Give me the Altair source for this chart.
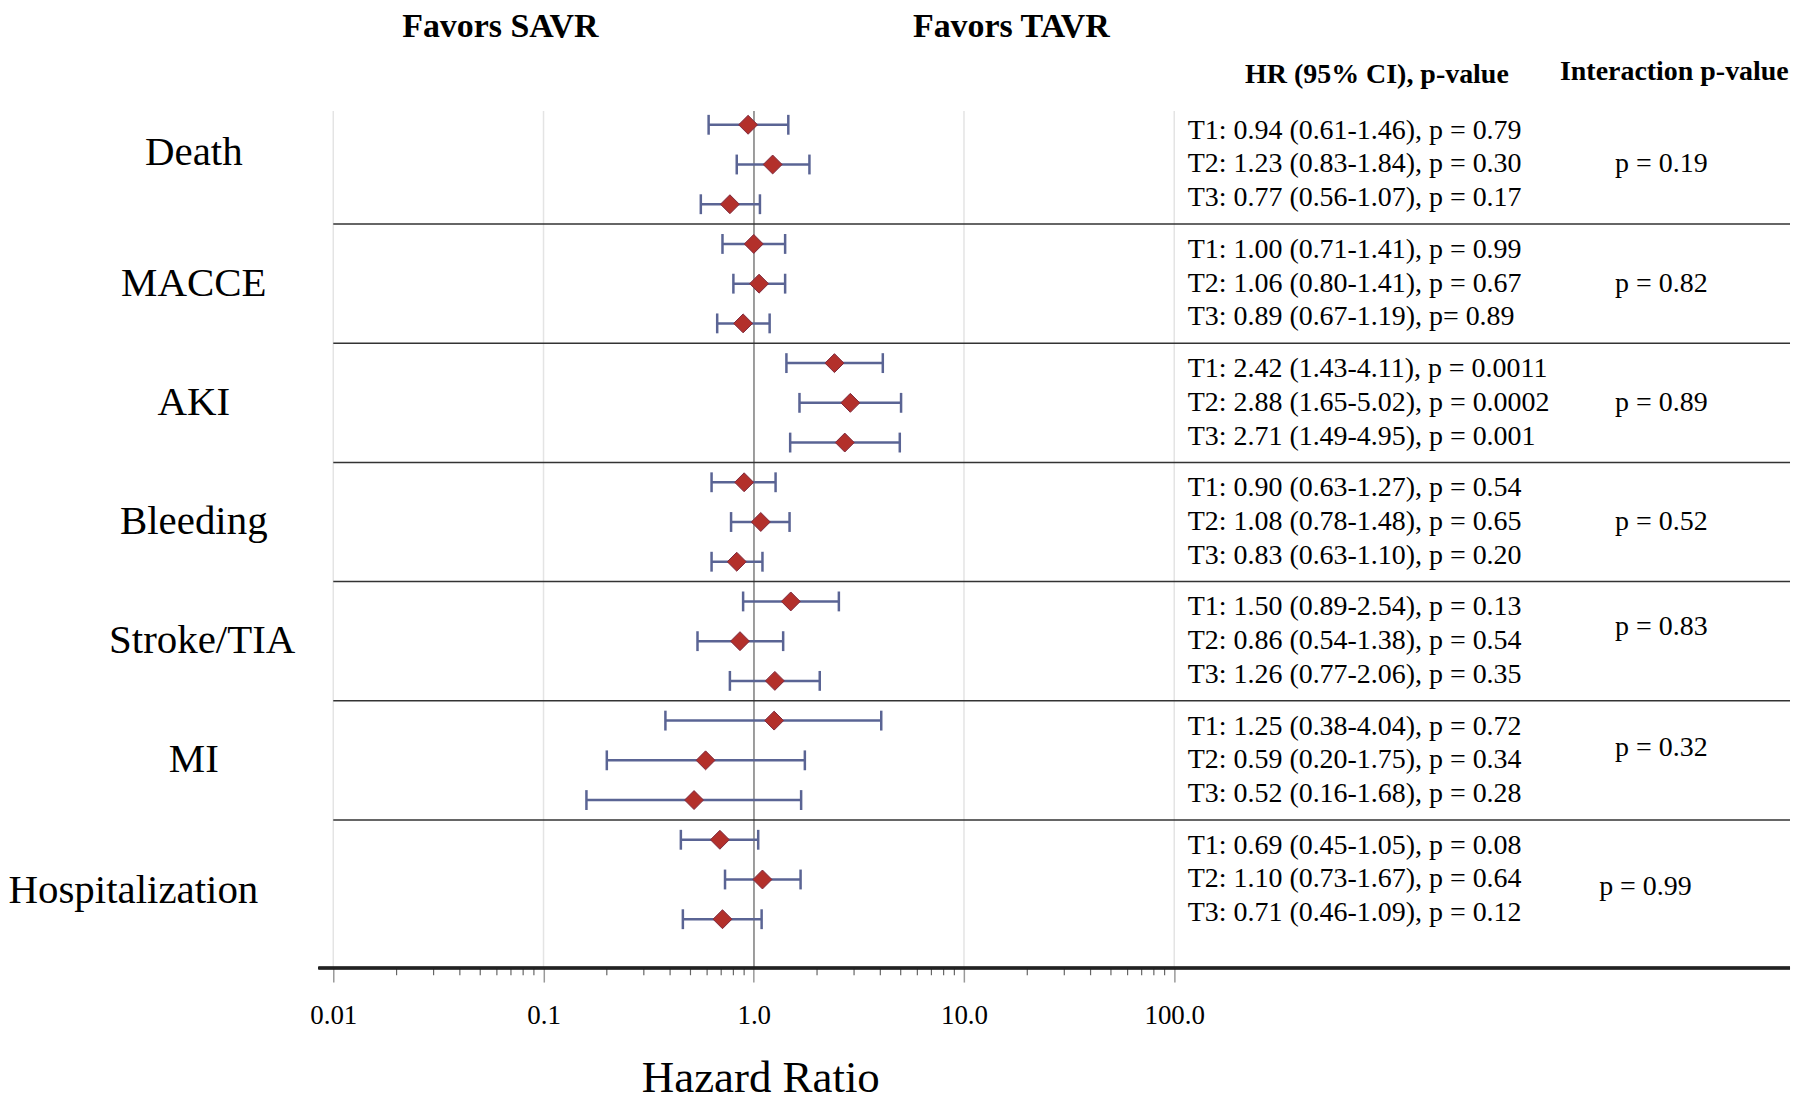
import altair as alt
import pandas as pd

# ---------------- data ----------------
outcomes = ["Death", "MACCE", "AKI", "Bleeding", "Stroke/TIA", "MI", "Hospitalization"]
tiers = ["T1", "T2", "T3"]
hr = [0.94, 1.23, 0.77, 1.00, 1.06, 0.89, 2.42, 2.88, 2.71, 0.90, 1.08, 0.83,
      1.50, 0.86, 1.26, 1.25, 0.59, 0.52, 0.69, 1.10, 0.71]
ci_lo = [0.61, 0.83, 0.56, 0.71, 0.80, 0.67, 1.43, 1.65, 1.49, 0.63, 0.78, 0.63,
         0.89, 0.54, 0.77, 0.38, 0.20, 0.16, 0.45, 0.73, 0.46]
ci_hi = [1.46, 1.84, 1.07, 1.41, 1.41, 1.19, 4.11, 5.02, 4.95, 1.27, 1.48, 1.10,
         2.54, 1.38, 2.06, 4.04, 1.75, 1.68, 1.05, 1.67, 1.09]
p_text = ["p = 0.79", "p = 0.30", "p = 0.17",
          "p = 0.99", "p = 0.67", "p= 0.89",
          "p = 0.0011", "p = 0.0002", "p = 0.001",
          "p = 0.54", "p = 0.65", "p = 0.20",
          "p = 0.13", "p = 0.54", "p = 0.35",
          "p = 0.72", "p = 0.34", "p = 0.28",
          "p = 0.08", "p = 0.64", "p = 0.12"]
interaction_p = ["p = 0.19", "p = 0.82", "p = 0.89", "p = 0.52", "p = 0.83", "p = 0.32", "p = 0.99"]
tick_values = [0.01, 0.1, 1, 10, 100]
tick_labels = ["0.01", "0.1", "1.0", "10.0", "100.0"]

# ---------------- tables ----------------
rows = []
for g, name in enumerate(outcomes):
    for t, tier in enumerate(tiers):
        i = g * 3 + t
        rows.append({
            "outcome": name, "tier": tier, "row": i, "mid": g * 3 + 1, "t": t,
            "hr": hr[i], "lo": ci_lo[i], "hi": ci_hi[i],
            "label": f"{tier}: {hr[i]:.2f} ({ci_lo[i]:.2f}-{ci_hi[i]:.2f}), {p_text[i]}",
        })
df = pd.DataFrame(rows)
groups = pd.DataFrame({"outcome": outcomes, "g": list(range(len(outcomes))), "pint": interaction_p})
grid_df = pd.DataFrame({"v": [v for v in tick_values if v != 1]})
sep_df = pd.DataFrame({"y": [g * 3 + 2.5 for g in range(len(outcomes) - 1)]})
minor_df = pd.DataFrame({"v": [m * 10.0 ** k for k in range(-2, 2) for m in range(2, 10)]})

# ---------------- scales / layout ----------------
XMIN, XMAX = 10 ** -3.5425, 10 ** 4.929
YTOP, YBOT = -2.884, 21.23
xs = alt.Scale(type="log", domain=[XMIN, XMAX], nice=False)
ys = alt.Scale(domain=[YTOP, YBOT], reverse=True, nice=False, zero=False)
FONT = "Liberation Serif"

label_expr = " : ".join(
    f"datum.value < {v * 3.0} ? '{lab}'" for v, lab in zip(tick_values[:-1], tick_labels[:-1])
) + f" : '{tick_labels[-1]}'"

xaxis = alt.Axis(values=tick_values, labelExpr=label_expr, grid=False, domain=False,
                 tickSize=14, tickColor="#999999", tickWidth=1.5,
                 labelFont=FONT, labelFontSize=27, labelColor="black", labelPadding=21,
                 labelFlush=False, labelOverlap=False,
                 title="Hazard Ratio", titleFont=FONT, titleFontSize=45, titleFontWeight="normal",
                 titleColor="black", titleX=753, titleY=124, titleAlign="center",
                 titleBaseline="alphabetic")


def X(field=None, datum=None):
    kw = dict(type="quantitative", scale=xs, axis=xaxis)
    if datum is not None:
        return alt.X(datum=datum, **kw)
    return alt.X(field, **kw)


def Y(field=None, datum=None):
    if datum is not None:
        return alt.Y(datum=datum, type="quantitative", scale=ys, axis=None)
    return alt.Y(field, type="quantitative", scale=ys, axis=None)


# gridlines
grid = alt.Chart(grid_df).mark_rule(color="#e4e4e4", strokeWidth=1.5).encode(
    x=X("v"), y=Y(datum=-0.35), y2=alt.Y2(datum=YBOT))
ref = alt.Chart(grid_df).mark_rule(color="#9a9a9a", strokeWidth=1.5).encode(
    x=X(datum=1), y=Y(datum=-0.35), y2=alt.Y2(datum=YBOT))

# separators and axis line
seps = alt.Chart(sep_df).mark_rule(color="#333333", strokeWidth=1.5).encode(
    x=X(datum=0.01), x2=alt.X2(datum=XMAX), y=Y("y"))
axis_line = alt.Chart(sep_df).mark_rule(color="#222222", strokeWidth=2.5).encode(
    x=X(datum=0.0085), x2=alt.X2(datum=XMAX), y=Y(datum=YBOT))
minor = alt.Chart(minor_df).mark_rule(color="#666666", strokeWidth=1.2).encode(
    x=X("v"), y=Y(datum=YBOT), y2=alt.Y2(datum=YBOT + 0.18))

# CIs
base = alt.Chart(df)
ci = base.mark_rule(color="#5a6494", strokeWidth=2.5).encode(
    x=X("lo"), x2="hi", y=Y("row"))
caps = base.transform_fold(["lo", "hi"], as_=["end", "xv"]).transform_calculate(
    a="datum.row - 0.25", b="datum.row + 0.25").mark_rule(
    color="#5a6494", strokeWidth=2.5).encode(x=X("xv"), y=Y("a"), y2="b")
pts = base.mark_point(shape="diamond", filled=True, size=360, fill="#b3302b",
                      stroke="#7d2a3e", strokeWidth=1, opacity=1).encode(
    x=X("hr"), y=Y("row"))

# texts
hr_txt = base.transform_calculate(ty="datum.mid + (datum.t - 1) * 0.85").mark_text(
    align="left", baseline="middle", font=FONT, fontSize=28, color="black").encode(
    x=X(datum=116), y=Y("ty"), text="label:N")

grp_base = alt.Chart(groups).transform_calculate(
    gy="datum.g * 3 + 1 + (datum.outcome == 'Death' ? -0.3 : (datum.outcome == 'Hospitalization' ? 0.3 : 0))",
    gx="datum.outcome == 'Hospitalization' ? 0.00112 : (datum.outcome == 'Stroke/TIA' ? 0.00238 : 0.00217)",
    py="datum.g * 3 + 1 + (datum.outcome == 'Stroke/TIA' ? -0.35 : (datum.outcome == 'MI' ? -0.3 : (datum.outcome == 'Hospitalization' ? 0.2 : 0)))",
    px="datum.outcome == 'Hospitalization' ? 10500 : 12500")
grp_txt = grp_base.mark_text(align="center", baseline="middle", font=FONT, fontSize=41,
                             color="black").encode(x=X("gx"), y=Y("gy"), text="outcome:N")
pint_txt = grp_base.mark_text(align="left", baseline="middle", font=FONT, fontSize=28,
                              color="black").encode(x=X("px"), y=Y("py"), text="pint:N")


def header(txt, xv, yv, size):
    return alt.Chart(sep_df).transform_aggregate(n="count()").mark_text(
        text=txt, align="center", baseline="alphabetic", font=FONT, fontSize=size,
        fontWeight="bold", color="black").encode(x=X(datum=xv), y=Y(datum=yv))


h1 = header("Favors SAVR", 0.0623, -2.22, 34)
h2 = header("Favors TAVR", 16.8, -2.22, 34)
h3 = header("HR (95% CI), p-value", 921, -1.05, 28)
h4 = header("Interaction p-value", 23930, -1.12, 28)

chart = alt.layer(
    grid, ref, seps, minor, ci, caps, pts, hr_txt, grp_txt, pint_txt,
    h1, h2, h3, h4, axis_line,
).properties(
    width=1785, height=960, padding=0, background="white"
).configure_view(stroke=None)

chart.save("out.html", embed_options={"renderer": "svg", "actions": False})
